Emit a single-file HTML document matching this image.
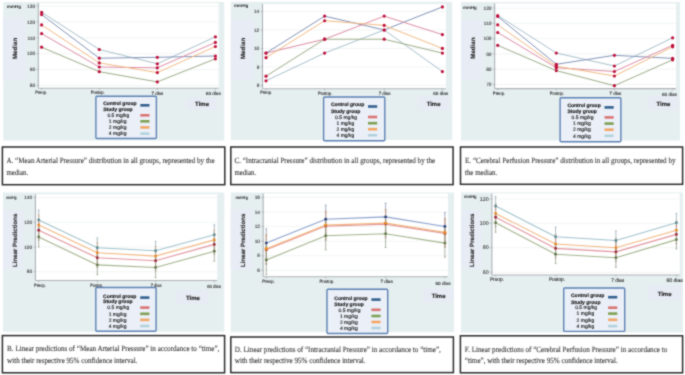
<!DOCTYPE html>
<html><head><meta charset="utf-8"><style>
html,body{margin:0;padding:0;background:#fff;width:685px;height:375px;overflow:hidden;}
svg{display:block;font-family:"Liberation Sans",sans-serif;}
text{text-rendering:geometricPrecision;}
</style></head><body>
<svg width="685" height="375" viewBox="0 0 685 375">
<defs><filter id="bl" x="0" y="0" width="1" height="1" filterUnits="objectBoundingBox" color-interpolation-filters="sRGB"><feConvolveMatrix order="3" kernelMatrix="1 2 1 2 10 2 1 2 1" divisor="22" edgeMode="duplicate" preserveAlpha="true"/></filter></defs>
<g filter="url(#bl)">
<rect x="0" y="0" width="685" height="375" fill="#ffffff"/>
<rect x="3.20" y="2.00" width="221.10" height="138.60" fill="#e6eff0" />
<rect x="2.80" y="17.50" width="23.00" height="62.00" fill="#e8ecf5" />
<rect x="38.30" y="3.00" width="180.30" height="85.20" fill="#ffffff" />
<line x1="38.30" y1="6.10" x2="218.60" y2="6.10" stroke="#eff1f1" stroke-width="0.8"/>
<line x1="38.30" y1="21.96" x2="218.60" y2="21.96" stroke="#eff1f1" stroke-width="0.8"/>
<line x1="38.30" y1="37.82" x2="218.60" y2="37.82" stroke="#eff1f1" stroke-width="0.8"/>
<line x1="38.30" y1="53.68" x2="218.60" y2="53.68" stroke="#eff1f1" stroke-width="0.8"/>
<line x1="38.30" y1="69.54" x2="218.60" y2="69.54" stroke="#eff1f1" stroke-width="0.8"/>
<line x1="38.30" y1="85.40" x2="218.60" y2="85.40" stroke="#eff1f1" stroke-width="0.8"/>
<line x1="38.30" y1="3.00" x2="38.30" y2="88.20" stroke="#9ca2a8" stroke-width="0.9"/>
<line x1="38.30" y1="88.20" x2="218.60" y2="88.20" stroke="#aeb2b6" stroke-width="1.1"/>
<line x1="36.30" y1="6.10" x2="38.30" y2="6.10" stroke="#9aa0a6" stroke-width="0.6"/>
<text x="35.10" y="7.80" font-size="4.8" text-anchor="end" font-weight="normal" fill="#444" font-family="Liberation Sans" stroke="#444" stroke-width="0.12">130</text>
<line x1="36.30" y1="21.96" x2="38.30" y2="21.96" stroke="#9aa0a6" stroke-width="0.6"/>
<text x="35.10" y="23.66" font-size="4.8" text-anchor="end" font-weight="normal" fill="#444" font-family="Liberation Sans" stroke="#444" stroke-width="0.12">120</text>
<line x1="36.30" y1="37.82" x2="38.30" y2="37.82" stroke="#9aa0a6" stroke-width="0.6"/>
<text x="35.10" y="39.52" font-size="4.8" text-anchor="end" font-weight="normal" fill="#444" font-family="Liberation Sans" stroke="#444" stroke-width="0.12">110</text>
<line x1="36.30" y1="53.68" x2="38.30" y2="53.68" stroke="#9aa0a6" stroke-width="0.6"/>
<text x="35.10" y="55.38" font-size="4.8" text-anchor="end" font-weight="normal" fill="#444" font-family="Liberation Sans" stroke="#444" stroke-width="0.12">100</text>
<line x1="36.30" y1="69.54" x2="38.30" y2="69.54" stroke="#9aa0a6" stroke-width="0.6"/>
<text x="35.10" y="71.24" font-size="4.8" text-anchor="end" font-weight="normal" fill="#444" font-family="Liberation Sans" stroke="#444" stroke-width="0.12">90</text>
<line x1="36.30" y1="85.40" x2="38.30" y2="85.40" stroke="#9aa0a6" stroke-width="0.6"/>
<text x="35.10" y="87.10" font-size="4.8" text-anchor="end" font-weight="normal" fill="#444" font-family="Liberation Sans" stroke="#444" stroke-width="0.12">80</text>
<line x1="41.60" y1="88.20" x2="41.60" y2="90.00" stroke="#9aa0a6" stroke-width="0.6"/>
<text x="41.20" y="94.44" font-size="4.6" text-anchor="middle" fill="#333" stroke="#333" stroke-width="0.14" font-family="Liberation Sans" textLength="11.80" lengthAdjust="spacingAndGlyphs">Preop.</text>
<line x1="99.30" y1="88.20" x2="99.30" y2="90.00" stroke="#9aa0a6" stroke-width="0.6"/>
<text x="97.70" y="94.44" font-size="4.6" text-anchor="middle" fill="#333" stroke="#333" stroke-width="0.14" font-family="Liberation Sans" textLength="14.10" lengthAdjust="spacingAndGlyphs">Postop.</text>
<line x1="157.30" y1="88.20" x2="157.30" y2="90.00" stroke="#9aa0a6" stroke-width="0.6"/>
<text x="157.40" y="94.64" font-size="4.6" text-anchor="middle" fill="#333" stroke="#333" stroke-width="0.14" font-family="Liberation Sans" textLength="11.70" lengthAdjust="spacingAndGlyphs">7 dias</text>
<line x1="215.40" y1="88.20" x2="215.40" y2="90.00" stroke="#9aa0a6" stroke-width="0.6"/>
<text x="213.30" y="95.34" font-size="4.6" text-anchor="middle" fill="#333" stroke="#333" stroke-width="0.14" font-family="Liberation Sans" textLength="15.00" lengthAdjust="spacingAndGlyphs">60 dias</text>
<text x="6.70" y="8.10" font-size="4.5" font-weight="bold" fill="#2a2a2a" font-family="Liberation Sans" textLength="14.30" lengthAdjust="spacingAndGlyphs">mmHg</text>
<text x="0" y="0" font-size="6.2" font-weight="bold" fill="#222" stroke="#222" stroke-width="0.12" font-family="Liberation Sans" text-anchor="middle" transform="translate(17.40,48.40) rotate(-90)">Median</text>
<polyline points="41.60,12.30 99.30,49.50 157.30,63.80 215.40,36.80" fill="none" stroke="#a8c0cc" stroke-width="1.0"/>
<polyline points="41.60,14.60 99.30,58.20 157.30,57.30 215.40,56.00" fill="none" stroke="#8294b8" stroke-width="1.0"/>
<polyline points="41.60,33.60 99.30,67.00 157.30,67.80 215.40,42.40" fill="none" stroke="#dc8ca4" stroke-width="1.0"/>
<polyline points="41.60,24.90 99.30,62.90 157.30,72.60 215.40,46.50" fill="none" stroke="#f2ba84" stroke-width="1.0"/>
<polyline points="41.60,47.20 99.30,71.70 157.30,81.90 215.40,58.80" fill="none" stroke="#9cac88" stroke-width="1.0"/>
<circle cx="41.60" cy="12.30" r="1.6" fill="#bc0e3a"/>
<circle cx="99.30" cy="49.50" r="1.6" fill="#bc0e3a"/>
<circle cx="157.30" cy="63.80" r="1.6" fill="#bc0e3a"/>
<circle cx="215.40" cy="36.80" r="1.6" fill="#bc0e3a"/>
<circle cx="41.60" cy="14.60" r="1.6" fill="#bc0e3a"/>
<circle cx="99.30" cy="58.20" r="1.6" fill="#bc0e3a"/>
<circle cx="157.30" cy="57.30" r="1.6" fill="#bc0e3a"/>
<circle cx="215.40" cy="56.00" r="1.6" fill="#bc0e3a"/>
<circle cx="41.60" cy="33.60" r="1.6" fill="#bc0e3a"/>
<circle cx="99.30" cy="67.00" r="1.6" fill="#bc0e3a"/>
<circle cx="157.30" cy="67.80" r="1.6" fill="#bc0e3a"/>
<circle cx="215.40" cy="42.40" r="1.6" fill="#bc0e3a"/>
<circle cx="41.60" cy="24.90" r="1.6" fill="#bc0e3a"/>
<circle cx="99.30" cy="62.90" r="1.6" fill="#bc0e3a"/>
<circle cx="157.30" cy="72.60" r="1.6" fill="#bc0e3a"/>
<circle cx="215.40" cy="46.50" r="1.6" fill="#bc0e3a"/>
<circle cx="41.60" cy="47.20" r="1.6" fill="#bc0e3a"/>
<circle cx="99.30" cy="71.70" r="1.6" fill="#bc0e3a"/>
<circle cx="157.30" cy="81.90" r="1.6" fill="#bc0e3a"/>
<circle cx="215.40" cy="58.80" r="1.6" fill="#bc0e3a"/>
<rect x="95.90" y="96.20" width="60.50" height="42.30" rx="1" fill="#ebf0f8" stroke="#5b80b2" stroke-width="1.4"/>
<text x="103.20" y="105.20" font-size="5.0" text-anchor="start" font-weight="bold" fill="#222" font-family="Liberation Sans" stroke="#222" stroke-width="0.18">Control group</text>
<rect x="140.30" y="104.00" width="9.2" height="2.6" fill="#33608f"/>
<text x="103.20" y="111.10" font-size="5.0" text-anchor="start" font-weight="bold" fill="#222" font-family="Liberation Sans" stroke="#222" stroke-width="0.18">Study group</text>
<text x="107.40" y="117.00" font-size="5.0" text-anchor="start" font-weight="normal" fill="#2e2e2e" font-family="Liberation Sans" stroke="#2e2e2e" stroke-width="0.18">0.5 mg/kg</text>
<rect x="140.30" y="114.00" width="9.2" height="2.6" fill="#da7474"/>
<text x="108.80" y="123.00" font-size="5.0" text-anchor="start" font-weight="normal" fill="#2e2e2e" font-family="Liberation Sans" stroke="#2e2e2e" stroke-width="0.18">1 mg/kg</text>
<rect x="140.30" y="120.00" width="9.2" height="2.6" fill="#7f9f52"/>
<text x="108.80" y="129.10" font-size="5.0" text-anchor="start" font-weight="normal" fill="#2e2e2e" font-family="Liberation Sans" stroke="#2e2e2e" stroke-width="0.18">2 mg/kg</text>
<rect x="140.30" y="126.10" width="9.2" height="2.6" fill="#f2a666"/>
<text x="108.80" y="135.30" font-size="5.0" text-anchor="start" font-weight="normal" fill="#2e2e2e" font-family="Liberation Sans" stroke="#2e2e2e" stroke-width="0.18">4 mg/kg</text>
<rect x="140.30" y="132.30" width="9.2" height="2.6" fill="#b2d2dc"/>
<rect x="185.50" y="97.60" width="31.00" height="12.30" fill="#e7ebf4" />
<text x="202.05" y="105.70" font-size="6.0" text-anchor="middle" font-weight="bold" fill="#222" font-family="Liberation Sans" stroke="#222" stroke-width="0.15">Time</text>
<rect x="230.80" y="1.80" width="221.40" height="138.20" fill="#e6eff0" />
<rect x="230.80" y="19.00" width="23.20" height="60.50" fill="#e8ecf5" />
<rect x="262.50" y="4.00" width="183.40" height="84.70" fill="#ffffff" />
<line x1="262.50" y1="11.50" x2="445.90" y2="11.50" stroke="#eff1f1" stroke-width="0.8"/>
<line x1="262.50" y1="29.98" x2="445.90" y2="29.98" stroke="#eff1f1" stroke-width="0.8"/>
<line x1="262.50" y1="48.46" x2="445.90" y2="48.46" stroke="#eff1f1" stroke-width="0.8"/>
<line x1="262.50" y1="66.94" x2="445.90" y2="66.94" stroke="#eff1f1" stroke-width="0.8"/>
<line x1="262.50" y1="85.42" x2="445.90" y2="85.42" stroke="#eff1f1" stroke-width="0.8"/>
<line x1="262.50" y1="4.00" x2="262.50" y2="88.70" stroke="#9ca2a8" stroke-width="0.9"/>
<line x1="262.50" y1="88.70" x2="445.90" y2="88.70" stroke="#aeb2b6" stroke-width="1.1"/>
<line x1="260.50" y1="11.50" x2="262.50" y2="11.50" stroke="#9aa0a6" stroke-width="0.6"/>
<text x="259.30" y="13.20" font-size="4.8" text-anchor="end" font-weight="normal" fill="#444" font-family="Liberation Sans" stroke="#444" stroke-width="0.12">14</text>
<line x1="260.50" y1="29.98" x2="262.50" y2="29.98" stroke="#9aa0a6" stroke-width="0.6"/>
<text x="259.30" y="31.68" font-size="4.8" text-anchor="end" font-weight="normal" fill="#444" font-family="Liberation Sans" stroke="#444" stroke-width="0.12">12</text>
<line x1="260.50" y1="48.46" x2="262.50" y2="48.46" stroke="#9aa0a6" stroke-width="0.6"/>
<text x="259.30" y="50.16" font-size="4.8" text-anchor="end" font-weight="normal" fill="#444" font-family="Liberation Sans" stroke="#444" stroke-width="0.12">10</text>
<line x1="260.50" y1="66.94" x2="262.50" y2="66.94" stroke="#9aa0a6" stroke-width="0.6"/>
<text x="259.30" y="68.64" font-size="4.8" text-anchor="end" font-weight="normal" fill="#444" font-family="Liberation Sans" stroke="#444" stroke-width="0.12">8</text>
<line x1="260.50" y1="85.42" x2="262.50" y2="85.42" stroke="#9aa0a6" stroke-width="0.6"/>
<text x="259.30" y="87.12" font-size="4.8" text-anchor="end" font-weight="normal" fill="#444" font-family="Liberation Sans" stroke="#444" stroke-width="0.12">6</text>
<line x1="266.00" y1="88.70" x2="266.00" y2="90.50" stroke="#9aa0a6" stroke-width="0.6"/>
<text x="266.20" y="94.44" font-size="4.6" text-anchor="middle" fill="#333" stroke="#333" stroke-width="0.14" font-family="Liberation Sans" textLength="11.90" lengthAdjust="spacingAndGlyphs">Preop.</text>
<line x1="324.60" y1="88.70" x2="324.60" y2="90.50" stroke="#9aa0a6" stroke-width="0.6"/>
<text x="325.20" y="94.64" font-size="4.6" text-anchor="middle" fill="#333" stroke="#333" stroke-width="0.14" font-family="Liberation Sans" textLength="14.30" lengthAdjust="spacingAndGlyphs">Postop.</text>
<line x1="384.20" y1="88.70" x2="384.20" y2="90.50" stroke="#9aa0a6" stroke-width="0.6"/>
<text x="384.50" y="94.84" font-size="4.6" text-anchor="middle" fill="#333" stroke="#333" stroke-width="0.14" font-family="Liberation Sans" textLength="11.70" lengthAdjust="spacingAndGlyphs">7 dias</text>
<line x1="442.40" y1="88.70" x2="442.40" y2="90.50" stroke="#9aa0a6" stroke-width="0.6"/>
<text x="440.70" y="95.04" font-size="4.6" text-anchor="middle" fill="#333" stroke="#333" stroke-width="0.14" font-family="Liberation Sans" textLength="14.80" lengthAdjust="spacingAndGlyphs">60 dias</text>
<text x="234.00" y="6.50" font-size="4.5" font-weight="bold" fill="#2a2a2a" font-family="Liberation Sans" textLength="14.30" lengthAdjust="spacingAndGlyphs">mmHg</text>
<text x="0" y="0" font-size="6.2" font-weight="bold" fill="#222" stroke="#222" stroke-width="0.12" font-family="Liberation Sans" text-anchor="middle" transform="translate(245.00,48.40) rotate(-90)">Median</text>
<polyline points="266.00,80.80 324.60,53.08 384.20,29.98 442.40,71.56" fill="none" stroke="#a8c0cc" stroke-width="1.0"/>
<polyline points="266.00,53.08 324.60,16.12 384.20,29.98 442.40,6.88" fill="none" stroke="#8294b8" stroke-width="1.0"/>
<polyline points="266.00,53.08 324.60,39.22 384.20,16.12 442.40,34.60" fill="none" stroke="#dc8ca4" stroke-width="1.0"/>
<polyline points="266.00,76.18 324.60,39.22 384.20,39.22 442.40,53.08" fill="none" stroke="#9cac88" stroke-width="1.0"/>
<polyline points="266.00,57.70 324.60,20.74 384.20,25.36 442.40,48.46" fill="none" stroke="#f2ba84" stroke-width="1.0"/>
<circle cx="266.00" cy="80.80" r="1.6" fill="#bc0e3a"/>
<circle cx="324.60" cy="53.08" r="1.6" fill="#bc0e3a"/>
<circle cx="384.20" cy="29.98" r="1.6" fill="#bc0e3a"/>
<circle cx="442.40" cy="71.56" r="1.6" fill="#bc0e3a"/>
<circle cx="266.00" cy="53.08" r="1.6" fill="#bc0e3a"/>
<circle cx="324.60" cy="16.12" r="1.6" fill="#bc0e3a"/>
<circle cx="384.20" cy="29.98" r="1.6" fill="#bc0e3a"/>
<circle cx="442.40" cy="6.88" r="1.6" fill="#bc0e3a"/>
<circle cx="266.00" cy="53.08" r="1.6" fill="#bc0e3a"/>
<circle cx="324.60" cy="39.22" r="1.6" fill="#bc0e3a"/>
<circle cx="384.20" cy="16.12" r="1.6" fill="#bc0e3a"/>
<circle cx="442.40" cy="34.60" r="1.6" fill="#bc0e3a"/>
<circle cx="266.00" cy="76.18" r="1.6" fill="#bc0e3a"/>
<circle cx="324.60" cy="39.22" r="1.6" fill="#bc0e3a"/>
<circle cx="384.20" cy="39.22" r="1.6" fill="#bc0e3a"/>
<circle cx="442.40" cy="53.08" r="1.6" fill="#bc0e3a"/>
<circle cx="266.00" cy="57.70" r="1.6" fill="#bc0e3a"/>
<circle cx="324.60" cy="20.74" r="1.6" fill="#bc0e3a"/>
<circle cx="384.20" cy="25.36" r="1.6" fill="#bc0e3a"/>
<circle cx="442.40" cy="48.46" r="1.6" fill="#bc0e3a"/>
<rect x="323.60" y="97.00" width="61.20" height="43.80" rx="1" fill="#ebf0f8" stroke="#5b80b2" stroke-width="1.4"/>
<text x="330.90" y="106.40" font-size="5.0" text-anchor="start" font-weight="bold" fill="#222" font-family="Liberation Sans" stroke="#222" stroke-width="0.18">Control group</text>
<rect x="368.00" y="105.20" width="9.2" height="2.6" fill="#33608f"/>
<text x="330.90" y="112.50" font-size="5.0" text-anchor="start" font-weight="bold" fill="#222" font-family="Liberation Sans" stroke="#222" stroke-width="0.18">Study group</text>
<text x="335.10" y="118.70" font-size="5.0" text-anchor="start" font-weight="normal" fill="#2e2e2e" font-family="Liberation Sans" stroke="#2e2e2e" stroke-width="0.18">0.5 mg/kg</text>
<rect x="368.00" y="115.70" width="9.2" height="2.6" fill="#da7474"/>
<text x="336.50" y="124.90" font-size="5.0" text-anchor="start" font-weight="normal" fill="#2e2e2e" font-family="Liberation Sans" stroke="#2e2e2e" stroke-width="0.18">1 mg/kg</text>
<rect x="368.00" y="121.90" width="9.2" height="2.6" fill="#7f9f52"/>
<text x="336.50" y="130.90" font-size="5.0" text-anchor="start" font-weight="normal" fill="#2e2e2e" font-family="Liberation Sans" stroke="#2e2e2e" stroke-width="0.18">2 mg/kg</text>
<rect x="368.00" y="127.90" width="9.2" height="2.6" fill="#f2a666"/>
<text x="336.50" y="137.00" font-size="5.0" text-anchor="start" font-weight="normal" fill="#2e2e2e" font-family="Liberation Sans" stroke="#2e2e2e" stroke-width="0.18">4 mg/kg</text>
<rect x="368.00" y="134.00" width="9.2" height="2.6" fill="#b2d2dc"/>
<rect x="417.50" y="95.90" width="32.80" height="14.60" fill="#e7ebf4" />
<text x="433.60" y="105.80" font-size="6.0" text-anchor="middle" font-weight="bold" fill="#222" font-family="Liberation Sans" stroke="#222" stroke-width="0.15">Time</text>
<rect x="461.00" y="2.00" width="219.00" height="138.60" fill="#e6eff0" />
<rect x="461.00" y="20.50" width="21.90" height="58.70" fill="#e8ecf5" />
<rect x="494.70" y="3.50" width="181.20" height="85.10" fill="#ffffff" />
<line x1="494.70" y1="8.00" x2="675.90" y2="8.00" stroke="#eff1f1" stroke-width="0.8"/>
<line x1="494.70" y1="23.30" x2="675.90" y2="23.30" stroke="#eff1f1" stroke-width="0.8"/>
<line x1="494.70" y1="38.60" x2="675.90" y2="38.60" stroke="#eff1f1" stroke-width="0.8"/>
<line x1="494.70" y1="53.90" x2="675.90" y2="53.90" stroke="#eff1f1" stroke-width="0.8"/>
<line x1="494.70" y1="69.20" x2="675.90" y2="69.20" stroke="#eff1f1" stroke-width="0.8"/>
<line x1="494.70" y1="84.50" x2="675.90" y2="84.50" stroke="#eff1f1" stroke-width="0.8"/>
<line x1="494.70" y1="3.50" x2="494.70" y2="88.60" stroke="#9ca2a8" stroke-width="0.9"/>
<line x1="494.70" y1="88.60" x2="675.90" y2="88.60" stroke="#aeb2b6" stroke-width="1.1"/>
<line x1="492.70" y1="8.00" x2="494.70" y2="8.00" stroke="#9aa0a6" stroke-width="0.6"/>
<text x="491.50" y="9.70" font-size="4.8" text-anchor="end" font-weight="normal" fill="#444" font-family="Liberation Sans" stroke="#444" stroke-width="0.12">120</text>
<line x1="492.70" y1="23.30" x2="494.70" y2="23.30" stroke="#9aa0a6" stroke-width="0.6"/>
<text x="491.50" y="25.00" font-size="4.8" text-anchor="end" font-weight="normal" fill="#444" font-family="Liberation Sans" stroke="#444" stroke-width="0.12">110</text>
<line x1="492.70" y1="38.60" x2="494.70" y2="38.60" stroke="#9aa0a6" stroke-width="0.6"/>
<text x="491.50" y="40.30" font-size="4.8" text-anchor="end" font-weight="normal" fill="#444" font-family="Liberation Sans" stroke="#444" stroke-width="0.12">100</text>
<line x1="492.70" y1="53.90" x2="494.70" y2="53.90" stroke="#9aa0a6" stroke-width="0.6"/>
<text x="491.50" y="55.60" font-size="4.8" text-anchor="end" font-weight="normal" fill="#444" font-family="Liberation Sans" stroke="#444" stroke-width="0.12">90</text>
<line x1="492.70" y1="69.20" x2="494.70" y2="69.20" stroke="#9aa0a6" stroke-width="0.6"/>
<text x="491.50" y="70.90" font-size="4.8" text-anchor="end" font-weight="normal" fill="#444" font-family="Liberation Sans" stroke="#444" stroke-width="0.12">80</text>
<line x1="492.70" y1="84.50" x2="494.70" y2="84.50" stroke="#9aa0a6" stroke-width="0.6"/>
<text x="491.50" y="86.20" font-size="4.8" text-anchor="end" font-weight="normal" fill="#444" font-family="Liberation Sans" stroke="#444" stroke-width="0.12">70</text>
<line x1="497.70" y1="88.60" x2="497.70" y2="90.40" stroke="#9aa0a6" stroke-width="0.6"/>
<text x="499.00" y="95.04" font-size="4.6" text-anchor="middle" fill="#333" stroke="#333" stroke-width="0.14" font-family="Liberation Sans" textLength="12.30" lengthAdjust="spacingAndGlyphs">Preop.</text>
<line x1="556.30" y1="88.60" x2="556.30" y2="90.40" stroke="#9aa0a6" stroke-width="0.6"/>
<text x="556.90" y="95.14" font-size="4.6" text-anchor="middle" fill="#333" stroke="#333" stroke-width="0.14" font-family="Liberation Sans" textLength="14.20" lengthAdjust="spacingAndGlyphs">Postop.</text>
<line x1="614.40" y1="88.60" x2="614.40" y2="90.40" stroke="#9aa0a6" stroke-width="0.6"/>
<text x="615.40" y="95.44" font-size="4.6" text-anchor="middle" fill="#333" stroke="#333" stroke-width="0.14" font-family="Liberation Sans" textLength="11.90" lengthAdjust="spacingAndGlyphs">7 dias</text>
<line x1="672.60" y1="88.60" x2="672.60" y2="90.40" stroke="#9aa0a6" stroke-width="0.6"/>
<text x="669.50" y="95.64" font-size="4.6" text-anchor="middle" fill="#333" stroke="#333" stroke-width="0.14" font-family="Liberation Sans" textLength="14.90" lengthAdjust="spacingAndGlyphs">60 dias</text>
<text x="463.10" y="8.70" font-size="4.5" font-weight="bold" fill="#2a2a2a" font-family="Liberation Sans" textLength="13.70" lengthAdjust="spacingAndGlyphs">mmHg</text>
<text x="0" y="0" font-size="6.2" font-weight="bold" fill="#222" stroke="#222" stroke-width="0.12" font-family="Liberation Sans" text-anchor="middle" transform="translate(475.00,48.10) rotate(-90)">Median</text>
<polyline points="497.70,15.50 556.30,53.00 614.40,66.00 672.60,37.80" fill="none" stroke="#a8c0cc" stroke-width="1.0"/>
<polyline points="497.70,16.50 556.30,64.30 614.40,55.30 672.60,58.40" fill="none" stroke="#8294b8" stroke-width="1.0"/>
<polyline points="497.70,32.50 556.30,67.70 614.40,71.50 672.60,45.30" fill="none" stroke="#dc8ca4" stroke-width="1.0"/>
<polyline points="497.70,24.80 556.30,66.20 614.40,76.00 672.60,46.80" fill="none" stroke="#f2ba84" stroke-width="1.0"/>
<polyline points="497.70,45.30 556.30,70.60 614.40,85.70 672.60,59.80" fill="none" stroke="#9cac88" stroke-width="1.0"/>
<circle cx="497.70" cy="15.50" r="1.6" fill="#bc0e3a"/>
<circle cx="556.30" cy="53.00" r="1.6" fill="#bc0e3a"/>
<circle cx="614.40" cy="66.00" r="1.6" fill="#bc0e3a"/>
<circle cx="672.60" cy="37.80" r="1.6" fill="#bc0e3a"/>
<circle cx="497.70" cy="16.50" r="1.6" fill="#bc0e3a"/>
<circle cx="556.30" cy="64.30" r="1.6" fill="#bc0e3a"/>
<circle cx="614.40" cy="55.30" r="1.6" fill="#bc0e3a"/>
<circle cx="672.60" cy="58.40" r="1.6" fill="#bc0e3a"/>
<circle cx="497.70" cy="32.50" r="1.6" fill="#bc0e3a"/>
<circle cx="556.30" cy="67.70" r="1.6" fill="#bc0e3a"/>
<circle cx="614.40" cy="71.50" r="1.6" fill="#bc0e3a"/>
<circle cx="672.60" cy="45.30" r="1.6" fill="#bc0e3a"/>
<circle cx="497.70" cy="24.80" r="1.6" fill="#bc0e3a"/>
<circle cx="556.30" cy="66.20" r="1.6" fill="#bc0e3a"/>
<circle cx="614.40" cy="76.00" r="1.6" fill="#bc0e3a"/>
<circle cx="672.60" cy="46.80" r="1.6" fill="#bc0e3a"/>
<circle cx="497.70" cy="45.30" r="1.6" fill="#bc0e3a"/>
<circle cx="556.30" cy="70.60" r="1.6" fill="#bc0e3a"/>
<circle cx="614.40" cy="85.70" r="1.6" fill="#bc0e3a"/>
<circle cx="672.60" cy="59.80" r="1.6" fill="#bc0e3a"/>
<rect x="560.10" y="97.70" width="60.80" height="44.10" rx="1" fill="#ebf0f8" stroke="#5b80b2" stroke-width="1.4"/>
<text x="567.40" y="107.30" font-size="5.0" text-anchor="start" font-weight="bold" fill="#222" font-family="Liberation Sans" stroke="#222" stroke-width="0.18">Control group</text>
<rect x="604.50" y="106.10" width="9.2" height="2.6" fill="#33608f"/>
<text x="567.40" y="113.20" font-size="5.0" text-anchor="start" font-weight="bold" fill="#222" font-family="Liberation Sans" stroke="#222" stroke-width="0.18">Study group</text>
<text x="571.60" y="119.10" font-size="5.0" text-anchor="start" font-weight="normal" fill="#2e2e2e" font-family="Liberation Sans" stroke="#2e2e2e" stroke-width="0.18">0.5 mg/kg</text>
<rect x="604.50" y="116.10" width="9.2" height="2.6" fill="#da7474"/>
<text x="573.00" y="125.30" font-size="5.0" text-anchor="start" font-weight="normal" fill="#2e2e2e" font-family="Liberation Sans" stroke="#2e2e2e" stroke-width="0.18">1 mg/kg</text>
<rect x="604.50" y="122.30" width="9.2" height="2.6" fill="#7f9f52"/>
<text x="573.00" y="131.40" font-size="5.0" text-anchor="start" font-weight="normal" fill="#2e2e2e" font-family="Liberation Sans" stroke="#2e2e2e" stroke-width="0.18">2 mg/kg</text>
<rect x="604.50" y="128.40" width="9.2" height="2.6" fill="#f2a666"/>
<text x="573.00" y="137.50" font-size="5.0" text-anchor="start" font-weight="normal" fill="#2e2e2e" font-family="Liberation Sans" stroke="#2e2e2e" stroke-width="0.18">4 mg/kg</text>
<rect x="604.50" y="134.50" width="9.2" height="2.6" fill="#b2d2dc"/>
<rect x="647.50" y="96.20" width="31.60" height="14.30" fill="#e7ebf4" />
<text x="663.50" y="105.90" font-size="6.0" text-anchor="middle" font-weight="bold" fill="#222" font-family="Liberation Sans" stroke="#222" stroke-width="0.15">Time</text>
<rect x="3.00" y="192.40" width="221.30" height="139.40" fill="#e6eff0" />
<rect x="3.00" y="210.00" width="21.00" height="59.60" fill="#e8ecf5" />
<rect x="35.40" y="194.30" width="181.80" height="86.20" fill="#ffffff" />
<line x1="35.40" y1="197.50" x2="217.20" y2="197.50" stroke="#eff1f1" stroke-width="0.8"/>
<line x1="35.40" y1="222.24" x2="217.20" y2="222.24" stroke="#eff1f1" stroke-width="0.8"/>
<line x1="35.40" y1="246.98" x2="217.20" y2="246.98" stroke="#eff1f1" stroke-width="0.8"/>
<line x1="35.40" y1="271.72" x2="217.20" y2="271.72" stroke="#eff1f1" stroke-width="0.8"/>
<line x1="35.40" y1="194.30" x2="35.40" y2="280.50" stroke="#9ca2a8" stroke-width="0.9"/>
<line x1="35.40" y1="280.50" x2="217.20" y2="280.50" stroke="#aeb2b6" stroke-width="1.1"/>
<line x1="33.40" y1="197.50" x2="35.40" y2="197.50" stroke="#9aa0a6" stroke-width="0.6"/>
<text x="32.20" y="199.20" font-size="4.8" text-anchor="end" font-weight="normal" fill="#444" font-family="Liberation Sans" stroke="#444" stroke-width="0.12">140</text>
<line x1="33.40" y1="222.24" x2="35.40" y2="222.24" stroke="#9aa0a6" stroke-width="0.6"/>
<text x="32.20" y="223.94" font-size="4.8" text-anchor="end" font-weight="normal" fill="#444" font-family="Liberation Sans" stroke="#444" stroke-width="0.12">120</text>
<line x1="33.40" y1="246.98" x2="35.40" y2="246.98" stroke="#9aa0a6" stroke-width="0.6"/>
<text x="32.20" y="248.68" font-size="4.8" text-anchor="end" font-weight="normal" fill="#444" font-family="Liberation Sans" stroke="#444" stroke-width="0.12">100</text>
<line x1="33.40" y1="271.72" x2="35.40" y2="271.72" stroke="#9aa0a6" stroke-width="0.6"/>
<text x="32.20" y="273.42" font-size="4.8" text-anchor="end" font-weight="normal" fill="#444" font-family="Liberation Sans" stroke="#444" stroke-width="0.12">80</text>
<line x1="38.70" y1="280.50" x2="38.70" y2="282.30" stroke="#9aa0a6" stroke-width="0.6"/>
<text x="39.90" y="286.94" font-size="4.6" text-anchor="middle" fill="#333" stroke="#333" stroke-width="0.14" font-family="Liberation Sans" textLength="11.70" lengthAdjust="spacingAndGlyphs">Preop.</text>
<line x1="97.30" y1="280.50" x2="97.30" y2="282.30" stroke="#9aa0a6" stroke-width="0.6"/>
<text x="96.70" y="287.04" font-size="4.6" text-anchor="middle" fill="#333" stroke="#333" stroke-width="0.14" font-family="Liberation Sans" textLength="12.80" lengthAdjust="spacingAndGlyphs">Postop.</text>
<line x1="155.60" y1="280.50" x2="155.60" y2="282.30" stroke="#9aa0a6" stroke-width="0.6"/>
<text x="156.10" y="287.24" font-size="4.6" text-anchor="middle" fill="#333" stroke="#333" stroke-width="0.14" font-family="Liberation Sans" textLength="10.80" lengthAdjust="spacingAndGlyphs">7 dias</text>
<line x1="214.30" y1="280.50" x2="214.30" y2="282.30" stroke="#9aa0a6" stroke-width="0.6"/>
<text x="214.00" y="287.64" font-size="4.6" text-anchor="middle" fill="#333" stroke="#333" stroke-width="0.14" font-family="Liberation Sans" textLength="13.70" lengthAdjust="spacingAndGlyphs">60 dias</text>
<text x="6.20" y="199.40" font-size="4.5" font-weight="bold" fill="#2a2a2a" font-family="Liberation Sans" textLength="10.40" lengthAdjust="spacingAndGlyphs">mmHg</text>
<text x="0" y="0" font-size="6.1" font-weight="bold" fill="#222" stroke="#222" stroke-width="0.12" font-family="Liberation Sans" text-anchor="middle" transform="translate(16.90,240.30) rotate(-90)">Linear Predictions</text>
<polyline points="38.70,219.90 97.30,247.80 155.60,250.70 214.30,234.70" fill="none" stroke="#a0c2cc" stroke-width="1.1"/>
<polyline points="38.70,225.00 97.30,252.70 155.60,256.10 214.30,239.90" fill="none" stroke="#f2b680" stroke-width="1.1"/>
<polyline points="38.70,230.20 97.30,257.80 155.60,260.70 214.30,244.40" fill="none" stroke="#e2949f" stroke-width="1.1"/>
<polyline points="38.70,237.00 97.30,264.90 155.60,267.50 214.30,251.30" fill="none" stroke="#a2b48c" stroke-width="1.1"/>
<line x1="38.70" y1="210.00" x2="38.70" y2="229.90" stroke="#8aa4ac" stroke-width="0.7"/>
<line x1="37.80" y1="210.00" x2="39.60" y2="210.00" stroke="#8aa4ac" stroke-width="0.7"/>
<line x1="37.80" y1="229.90" x2="39.60" y2="229.90" stroke="#8aa4ac" stroke-width="0.7"/>
<line x1="38.70" y1="215.10" x2="38.70" y2="235.00" stroke="#c8a480" stroke-width="0.7"/>
<line x1="37.80" y1="215.10" x2="39.60" y2="215.10" stroke="#c8a480" stroke-width="0.7"/>
<line x1="37.80" y1="235.00" x2="39.60" y2="235.00" stroke="#c8a480" stroke-width="0.7"/>
<line x1="38.70" y1="220.30" x2="38.70" y2="240.20" stroke="#b89094" stroke-width="0.7"/>
<line x1="37.80" y1="220.30" x2="39.60" y2="220.30" stroke="#b89094" stroke-width="0.7"/>
<line x1="37.80" y1="240.20" x2="39.60" y2="240.20" stroke="#b89094" stroke-width="0.7"/>
<line x1="38.70" y1="227.10" x2="38.70" y2="247.00" stroke="#8a967c" stroke-width="0.7"/>
<line x1="37.80" y1="227.10" x2="39.60" y2="227.10" stroke="#8a967c" stroke-width="0.7"/>
<line x1="37.80" y1="247.00" x2="39.60" y2="247.00" stroke="#8a967c" stroke-width="0.7"/>
<line x1="97.30" y1="237.90" x2="97.30" y2="257.50" stroke="#8aa4ac" stroke-width="0.7"/>
<line x1="96.40" y1="237.90" x2="98.20" y2="237.90" stroke="#8aa4ac" stroke-width="0.7"/>
<line x1="96.40" y1="257.50" x2="98.20" y2="257.50" stroke="#8aa4ac" stroke-width="0.7"/>
<line x1="97.30" y1="242.80" x2="97.30" y2="262.40" stroke="#c8a480" stroke-width="0.7"/>
<line x1="96.40" y1="242.80" x2="98.20" y2="242.80" stroke="#c8a480" stroke-width="0.7"/>
<line x1="96.40" y1="262.40" x2="98.20" y2="262.40" stroke="#c8a480" stroke-width="0.7"/>
<line x1="97.30" y1="247.90" x2="97.30" y2="267.50" stroke="#b89094" stroke-width="0.7"/>
<line x1="96.40" y1="247.90" x2="98.20" y2="247.90" stroke="#b89094" stroke-width="0.7"/>
<line x1="96.40" y1="267.50" x2="98.20" y2="267.50" stroke="#b89094" stroke-width="0.7"/>
<line x1="97.30" y1="255.00" x2="97.30" y2="274.60" stroke="#8a967c" stroke-width="0.7"/>
<line x1="96.40" y1="255.00" x2="98.20" y2="255.00" stroke="#8a967c" stroke-width="0.7"/>
<line x1="96.40" y1="274.60" x2="98.20" y2="274.60" stroke="#8a967c" stroke-width="0.7"/>
<line x1="155.60" y1="241.30" x2="155.60" y2="260.90" stroke="#8aa4ac" stroke-width="0.7"/>
<line x1="154.70" y1="241.30" x2="156.50" y2="241.30" stroke="#8aa4ac" stroke-width="0.7"/>
<line x1="154.70" y1="260.90" x2="156.50" y2="260.90" stroke="#8aa4ac" stroke-width="0.7"/>
<line x1="155.60" y1="246.70" x2="155.60" y2="266.30" stroke="#c8a480" stroke-width="0.7"/>
<line x1="154.70" y1="246.70" x2="156.50" y2="246.70" stroke="#c8a480" stroke-width="0.7"/>
<line x1="154.70" y1="266.30" x2="156.50" y2="266.30" stroke="#c8a480" stroke-width="0.7"/>
<line x1="155.60" y1="251.30" x2="155.60" y2="270.90" stroke="#b89094" stroke-width="0.7"/>
<line x1="154.70" y1="251.30" x2="156.50" y2="251.30" stroke="#b89094" stroke-width="0.7"/>
<line x1="154.70" y1="270.90" x2="156.50" y2="270.90" stroke="#b89094" stroke-width="0.7"/>
<line x1="155.60" y1="258.10" x2="155.60" y2="277.70" stroke="#8a967c" stroke-width="0.7"/>
<line x1="154.70" y1="258.10" x2="156.50" y2="258.10" stroke="#8a967c" stroke-width="0.7"/>
<line x1="154.70" y1="277.70" x2="156.50" y2="277.70" stroke="#8a967c" stroke-width="0.7"/>
<line x1="214.30" y1="224.80" x2="214.30" y2="244.60" stroke="#8aa4ac" stroke-width="0.7"/>
<line x1="213.40" y1="224.80" x2="215.20" y2="224.80" stroke="#8aa4ac" stroke-width="0.7"/>
<line x1="213.40" y1="244.60" x2="215.20" y2="244.60" stroke="#8aa4ac" stroke-width="0.7"/>
<line x1="214.30" y1="230.00" x2="214.30" y2="249.80" stroke="#c8a480" stroke-width="0.7"/>
<line x1="213.40" y1="230.00" x2="215.20" y2="230.00" stroke="#c8a480" stroke-width="0.7"/>
<line x1="213.40" y1="249.80" x2="215.20" y2="249.80" stroke="#c8a480" stroke-width="0.7"/>
<line x1="214.30" y1="234.50" x2="214.30" y2="254.30" stroke="#b89094" stroke-width="0.7"/>
<line x1="213.40" y1="234.50" x2="215.20" y2="234.50" stroke="#b89094" stroke-width="0.7"/>
<line x1="213.40" y1="254.30" x2="215.20" y2="254.30" stroke="#b89094" stroke-width="0.7"/>
<line x1="214.30" y1="241.40" x2="214.30" y2="261.20" stroke="#8a967c" stroke-width="0.7"/>
<line x1="213.40" y1="241.40" x2="215.20" y2="241.40" stroke="#8a967c" stroke-width="0.7"/>
<line x1="213.40" y1="261.20" x2="215.20" y2="261.20" stroke="#8a967c" stroke-width="0.7"/>
<circle cx="38.70" cy="219.90" r="1.45" fill="#5c8c92"/>
<circle cx="97.30" cy="247.80" r="1.45" fill="#5c8c92"/>
<circle cx="155.60" cy="250.70" r="1.45" fill="#5c8c92"/>
<circle cx="214.30" cy="234.70" r="1.45" fill="#5c8c92"/>
<circle cx="38.70" cy="225.00" r="1.45" fill="#e68c2c"/>
<circle cx="97.30" cy="252.70" r="1.45" fill="#e68c2c"/>
<circle cx="155.60" cy="256.10" r="1.45" fill="#e68c2c"/>
<circle cx="214.30" cy="239.90" r="1.45" fill="#e68c2c"/>
<circle cx="38.70" cy="230.20" r="1.45" fill="#9a2a3a"/>
<circle cx="97.30" cy="257.80" r="1.45" fill="#9a2a3a"/>
<circle cx="155.60" cy="260.70" r="1.45" fill="#9a2a3a"/>
<circle cx="214.30" cy="244.40" r="1.45" fill="#9a2a3a"/>
<circle cx="38.70" cy="237.00" r="1.45" fill="#647a4c"/>
<circle cx="97.30" cy="264.90" r="1.45" fill="#647a4c"/>
<circle cx="155.60" cy="267.50" r="1.45" fill="#647a4c"/>
<circle cx="214.30" cy="251.30" r="1.45" fill="#647a4c"/>
<rect x="95.80" y="287.50" width="60.30" height="43.80" rx="1" fill="#ebf0f8" stroke="#5b80b2" stroke-width="1.4"/>
<text x="103.10" y="297.50" font-size="5.0" text-anchor="start" font-weight="bold" fill="#222" font-family="Liberation Sans" stroke="#222" stroke-width="0.18">Control group</text>
<rect x="140.20" y="296.30" width="9.2" height="2.6" fill="#33608f"/>
<text x="103.10" y="303.40" font-size="5.0" text-anchor="start" font-weight="bold" fill="#222" font-family="Liberation Sans" stroke="#222" stroke-width="0.18">Study group</text>
<text x="107.30" y="309.30" font-size="5.0" text-anchor="start" font-weight="normal" fill="#2e2e2e" font-family="Liberation Sans" stroke="#2e2e2e" stroke-width="0.18">0.5 mg/kg</text>
<rect x="140.20" y="306.30" width="9.2" height="2.6" fill="#da7474"/>
<text x="108.70" y="315.50" font-size="5.0" text-anchor="start" font-weight="normal" fill="#2e2e2e" font-family="Liberation Sans" stroke="#2e2e2e" stroke-width="0.18">1 mg/kg</text>
<rect x="140.20" y="312.50" width="9.2" height="2.6" fill="#7f9f52"/>
<text x="108.70" y="321.60" font-size="5.0" text-anchor="start" font-weight="normal" fill="#2e2e2e" font-family="Liberation Sans" stroke="#2e2e2e" stroke-width="0.18">2 mg/kg</text>
<rect x="140.20" y="318.60" width="9.2" height="2.6" fill="#f2a666"/>
<text x="108.70" y="327.70" font-size="5.0" text-anchor="start" font-weight="normal" fill="#2e2e2e" font-family="Liberation Sans" stroke="#2e2e2e" stroke-width="0.18">4 mg/kg</text>
<rect x="140.20" y="324.70" width="9.2" height="2.6" fill="#b2d2dc"/>
<rect x="176.10" y="289.90" width="32.20" height="14.10" fill="#e7ebf4" />
<text x="192.90" y="299.70" font-size="6.0" text-anchor="middle" font-weight="bold" fill="#222" font-family="Liberation Sans" stroke="#222" stroke-width="0.15">Time</text>
<rect x="230.80" y="192.40" width="223.20" height="139.60" fill="#e6eff0" />
<rect x="230.60" y="209.00" width="22.10" height="61.00" fill="#e8ecf5" />
<rect x="263.20" y="193.50" width="184.70" height="83.30" fill="#ffffff" />
<line x1="263.20" y1="197.50" x2="447.90" y2="197.50" stroke="#eff1f1" stroke-width="0.8"/>
<line x1="263.20" y1="212.06" x2="447.90" y2="212.06" stroke="#eff1f1" stroke-width="0.8"/>
<line x1="263.20" y1="226.62" x2="447.90" y2="226.62" stroke="#eff1f1" stroke-width="0.8"/>
<line x1="263.20" y1="241.18" x2="447.90" y2="241.18" stroke="#eff1f1" stroke-width="0.8"/>
<line x1="263.20" y1="255.74" x2="447.90" y2="255.74" stroke="#eff1f1" stroke-width="0.8"/>
<line x1="263.20" y1="270.30" x2="447.90" y2="270.30" stroke="#eff1f1" stroke-width="0.8"/>
<line x1="263.20" y1="193.50" x2="263.20" y2="276.80" stroke="#9ca2a8" stroke-width="0.9"/>
<line x1="263.20" y1="276.80" x2="447.90" y2="276.80" stroke="#aeb2b6" stroke-width="1.1"/>
<line x1="261.20" y1="197.50" x2="263.20" y2="197.50" stroke="#9aa0a6" stroke-width="0.6"/>
<text x="260.00" y="199.20" font-size="4.8" text-anchor="end" font-weight="normal" fill="#444" font-family="Liberation Sans" stroke="#444" stroke-width="0.12">16</text>
<line x1="261.20" y1="212.06" x2="263.20" y2="212.06" stroke="#9aa0a6" stroke-width="0.6"/>
<text x="260.00" y="213.76" font-size="4.8" text-anchor="end" font-weight="normal" fill="#444" font-family="Liberation Sans" stroke="#444" stroke-width="0.12">14</text>
<line x1="261.20" y1="226.62" x2="263.20" y2="226.62" stroke="#9aa0a6" stroke-width="0.6"/>
<text x="260.00" y="228.32" font-size="4.8" text-anchor="end" font-weight="normal" fill="#444" font-family="Liberation Sans" stroke="#444" stroke-width="0.12">12</text>
<line x1="261.20" y1="241.18" x2="263.20" y2="241.18" stroke="#9aa0a6" stroke-width="0.6"/>
<text x="260.00" y="242.88" font-size="4.8" text-anchor="end" font-weight="normal" fill="#444" font-family="Liberation Sans" stroke="#444" stroke-width="0.12">10</text>
<line x1="261.20" y1="255.74" x2="263.20" y2="255.74" stroke="#9aa0a6" stroke-width="0.6"/>
<text x="260.00" y="257.44" font-size="4.8" text-anchor="end" font-weight="normal" fill="#444" font-family="Liberation Sans" stroke="#444" stroke-width="0.12">8</text>
<line x1="261.20" y1="270.30" x2="263.20" y2="270.30" stroke="#9aa0a6" stroke-width="0.6"/>
<text x="260.00" y="272.00" font-size="4.8" text-anchor="end" font-weight="normal" fill="#444" font-family="Liberation Sans" stroke="#444" stroke-width="0.12">6</text>
<line x1="266.30" y1="276.80" x2="266.30" y2="278.60" stroke="#9aa0a6" stroke-width="0.6"/>
<text x="268.50" y="282.84" font-size="4.6" text-anchor="middle" fill="#333" stroke="#333" stroke-width="0.14" font-family="Liberation Sans" textLength="12.30" lengthAdjust="spacingAndGlyphs">Preop.</text>
<line x1="325.70" y1="276.80" x2="325.70" y2="278.60" stroke="#9aa0a6" stroke-width="0.6"/>
<text x="326.90" y="283.04" font-size="4.6" text-anchor="middle" fill="#333" stroke="#333" stroke-width="0.14" font-family="Liberation Sans" textLength="14.90" lengthAdjust="spacingAndGlyphs">Postop.</text>
<line x1="385.60" y1="276.80" x2="385.60" y2="278.60" stroke="#9aa0a6" stroke-width="0.6"/>
<text x="386.60" y="283.34" font-size="4.6" text-anchor="middle" fill="#333" stroke="#333" stroke-width="0.14" font-family="Liberation Sans" textLength="12.30" lengthAdjust="spacingAndGlyphs">7 dias</text>
<line x1="444.90" y1="276.80" x2="444.90" y2="278.60" stroke="#9aa0a6" stroke-width="0.6"/>
<text x="443.00" y="285.14" font-size="4.6" text-anchor="middle" fill="#333" stroke="#333" stroke-width="0.14" font-family="Liberation Sans" textLength="15.00" lengthAdjust="spacingAndGlyphs">60 dias</text>
<text x="235.50" y="199.40" font-size="4.5" font-weight="bold" fill="#2a2a2a" font-family="Liberation Sans" textLength="12.40" lengthAdjust="spacingAndGlyphs">mmHg</text>
<text x="0" y="0" font-size="6.1" font-weight="bold" fill="#222" stroke="#222" stroke-width="0.12" font-family="Liberation Sans" text-anchor="middle" transform="translate(245.00,240.30) rotate(-90)">Linear Predictions</text>
<polyline points="266.30,243.10 325.70,219.20 385.60,216.90 444.90,226.50" fill="none" stroke="#8aa0cc" stroke-width="1.1"/>
<polyline points="266.30,249.80 325.70,226.10 385.60,224.10 444.90,233.40" fill="none" stroke="#e2949f" stroke-width="1.1"/>
<polyline points="266.30,248.80 325.70,225.10 385.60,223.10 444.90,232.40" fill="none" stroke="#f2b680" stroke-width="1.3"/>
<polyline points="266.30,260.00 325.70,235.80 385.60,233.80 444.90,243.10" fill="none" stroke="#a2b48c" stroke-width="1.1"/>
<line x1="266.30" y1="228.80" x2="266.30" y2="257.80" stroke="#7c8cac" stroke-width="0.7"/>
<line x1="265.40" y1="228.80" x2="267.20" y2="228.80" stroke="#7c8cac" stroke-width="0.7"/>
<line x1="265.40" y1="257.80" x2="267.20" y2="257.80" stroke="#7c8cac" stroke-width="0.7"/>
<line x1="266.30" y1="235.50" x2="266.30" y2="264.50" stroke="#b89094" stroke-width="0.7"/>
<line x1="265.40" y1="235.50" x2="267.20" y2="235.50" stroke="#b89094" stroke-width="0.7"/>
<line x1="265.40" y1="264.50" x2="267.20" y2="264.50" stroke="#b89094" stroke-width="0.7"/>
<line x1="266.30" y1="234.50" x2="266.30" y2="263.50" stroke="#c8a480" stroke-width="0.7"/>
<line x1="265.40" y1="234.50" x2="267.20" y2="234.50" stroke="#c8a480" stroke-width="0.7"/>
<line x1="265.40" y1="263.50" x2="267.20" y2="263.50" stroke="#c8a480" stroke-width="0.7"/>
<line x1="266.30" y1="245.70" x2="266.30" y2="274.70" stroke="#8a967c" stroke-width="0.7"/>
<line x1="265.40" y1="245.70" x2="267.20" y2="245.70" stroke="#8a967c" stroke-width="0.7"/>
<line x1="265.40" y1="274.70" x2="267.20" y2="274.70" stroke="#8a967c" stroke-width="0.7"/>
<line x1="325.70" y1="205.20" x2="325.70" y2="233.30" stroke="#7c8cac" stroke-width="0.7"/>
<line x1="324.80" y1="205.20" x2="326.60" y2="205.20" stroke="#7c8cac" stroke-width="0.7"/>
<line x1="324.80" y1="233.30" x2="326.60" y2="233.30" stroke="#7c8cac" stroke-width="0.7"/>
<line x1="325.70" y1="212.10" x2="325.70" y2="240.20" stroke="#b89094" stroke-width="0.7"/>
<line x1="324.80" y1="212.10" x2="326.60" y2="212.10" stroke="#b89094" stroke-width="0.7"/>
<line x1="324.80" y1="240.20" x2="326.60" y2="240.20" stroke="#b89094" stroke-width="0.7"/>
<line x1="325.70" y1="211.10" x2="325.70" y2="239.20" stroke="#c8a480" stroke-width="0.7"/>
<line x1="324.80" y1="211.10" x2="326.60" y2="211.10" stroke="#c8a480" stroke-width="0.7"/>
<line x1="324.80" y1="239.20" x2="326.60" y2="239.20" stroke="#c8a480" stroke-width="0.7"/>
<line x1="325.70" y1="221.80" x2="325.70" y2="249.90" stroke="#8a967c" stroke-width="0.7"/>
<line x1="324.80" y1="221.80" x2="326.60" y2="221.80" stroke="#8a967c" stroke-width="0.7"/>
<line x1="324.80" y1="249.90" x2="326.60" y2="249.90" stroke="#8a967c" stroke-width="0.7"/>
<line x1="385.60" y1="203.10" x2="385.60" y2="230.60" stroke="#7c8cac" stroke-width="0.7"/>
<line x1="384.70" y1="203.10" x2="386.50" y2="203.10" stroke="#7c8cac" stroke-width="0.7"/>
<line x1="384.70" y1="230.60" x2="386.50" y2="230.60" stroke="#7c8cac" stroke-width="0.7"/>
<line x1="385.60" y1="210.30" x2="385.60" y2="237.80" stroke="#b89094" stroke-width="0.7"/>
<line x1="384.70" y1="210.30" x2="386.50" y2="210.30" stroke="#b89094" stroke-width="0.7"/>
<line x1="384.70" y1="237.80" x2="386.50" y2="237.80" stroke="#b89094" stroke-width="0.7"/>
<line x1="385.60" y1="209.30" x2="385.60" y2="236.80" stroke="#c8a480" stroke-width="0.7"/>
<line x1="384.70" y1="209.30" x2="386.50" y2="209.30" stroke="#c8a480" stroke-width="0.7"/>
<line x1="384.70" y1="236.80" x2="386.50" y2="236.80" stroke="#c8a480" stroke-width="0.7"/>
<line x1="385.60" y1="220.00" x2="385.60" y2="247.50" stroke="#8a967c" stroke-width="0.7"/>
<line x1="384.70" y1="220.00" x2="386.50" y2="220.00" stroke="#8a967c" stroke-width="0.7"/>
<line x1="384.70" y1="247.50" x2="386.50" y2="247.50" stroke="#8a967c" stroke-width="0.7"/>
<line x1="444.90" y1="212.50" x2="444.90" y2="240.60" stroke="#7c8cac" stroke-width="0.7"/>
<line x1="444.00" y1="212.50" x2="445.80" y2="212.50" stroke="#7c8cac" stroke-width="0.7"/>
<line x1="444.00" y1="240.60" x2="445.80" y2="240.60" stroke="#7c8cac" stroke-width="0.7"/>
<line x1="444.90" y1="219.40" x2="444.90" y2="247.50" stroke="#b89094" stroke-width="0.7"/>
<line x1="444.00" y1="219.40" x2="445.80" y2="219.40" stroke="#b89094" stroke-width="0.7"/>
<line x1="444.00" y1="247.50" x2="445.80" y2="247.50" stroke="#b89094" stroke-width="0.7"/>
<line x1="444.90" y1="218.40" x2="444.90" y2="246.50" stroke="#c8a480" stroke-width="0.7"/>
<line x1="444.00" y1="218.40" x2="445.80" y2="218.40" stroke="#c8a480" stroke-width="0.7"/>
<line x1="444.00" y1="246.50" x2="445.80" y2="246.50" stroke="#c8a480" stroke-width="0.7"/>
<line x1="444.90" y1="229.10" x2="444.90" y2="257.20" stroke="#8a967c" stroke-width="0.7"/>
<line x1="444.00" y1="229.10" x2="445.80" y2="229.10" stroke="#8a967c" stroke-width="0.7"/>
<line x1="444.00" y1="257.20" x2="445.80" y2="257.20" stroke="#8a967c" stroke-width="0.7"/>
<circle cx="266.30" cy="243.10" r="1.45" fill="#28447c"/>
<circle cx="325.70" cy="219.20" r="1.45" fill="#28447c"/>
<circle cx="385.60" cy="216.90" r="1.45" fill="#28447c"/>
<circle cx="444.90" cy="226.50" r="1.45" fill="#28447c"/>
<circle cx="266.30" cy="249.80" r="1.45" fill="#9a2a3a"/>
<circle cx="325.70" cy="226.10" r="1.45" fill="#9a2a3a"/>
<circle cx="385.60" cy="224.10" r="1.45" fill="#9a2a3a"/>
<circle cx="444.90" cy="233.40" r="1.45" fill="#9a2a3a"/>
<circle cx="266.30" cy="248.80" r="1.7" fill="#e68c2c"/>
<circle cx="325.70" cy="225.10" r="1.7" fill="#e68c2c"/>
<circle cx="385.60" cy="223.10" r="1.7" fill="#e68c2c"/>
<circle cx="444.90" cy="232.40" r="1.7" fill="#e68c2c"/>
<circle cx="266.30" cy="260.00" r="1.45" fill="#647a4c"/>
<circle cx="325.70" cy="235.80" r="1.45" fill="#647a4c"/>
<circle cx="385.60" cy="233.80" r="1.45" fill="#647a4c"/>
<circle cx="444.90" cy="243.10" r="1.45" fill="#647a4c"/>
<rect x="327.00" y="289.30" width="60.70" height="44.20" rx="1" fill="#ebf0f8" stroke="#5b80b2" stroke-width="1.4"/>
<text x="334.30" y="299.50" font-size="5.0" text-anchor="start" font-weight="bold" fill="#222" font-family="Liberation Sans" stroke="#222" stroke-width="0.18">Control group</text>
<rect x="371.40" y="298.30" width="9.2" height="2.6" fill="#33608f"/>
<text x="334.30" y="305.60" font-size="5.0" text-anchor="start" font-weight="bold" fill="#222" font-family="Liberation Sans" stroke="#222" stroke-width="0.18">Study group</text>
<text x="338.50" y="311.50" font-size="5.0" text-anchor="start" font-weight="normal" fill="#2e2e2e" font-family="Liberation Sans" stroke="#2e2e2e" stroke-width="0.18">0.5 mg/kg</text>
<rect x="371.40" y="308.50" width="9.2" height="2.6" fill="#da7474"/>
<text x="339.90" y="317.70" font-size="5.0" text-anchor="start" font-weight="normal" fill="#2e2e2e" font-family="Liberation Sans" stroke="#2e2e2e" stroke-width="0.18">1 mg/kg</text>
<rect x="371.40" y="314.70" width="9.2" height="2.6" fill="#7f9f52"/>
<text x="339.90" y="323.70" font-size="5.0" text-anchor="start" font-weight="normal" fill="#2e2e2e" font-family="Liberation Sans" stroke="#2e2e2e" stroke-width="0.18">2 mg/kg</text>
<rect x="371.40" y="320.70" width="9.2" height="2.6" fill="#f2a666"/>
<text x="339.90" y="329.70" font-size="5.0" text-anchor="start" font-weight="normal" fill="#2e2e2e" font-family="Liberation Sans" stroke="#2e2e2e" stroke-width="0.18">4 mg/kg</text>
<rect x="371.40" y="326.70" width="9.2" height="2.6" fill="#b2d2dc"/>
<rect x="422.70" y="288.50" width="31.00" height="14.00" fill="#e7ebf4" />
<text x="438.60" y="298.00" font-size="6.0" text-anchor="middle" font-weight="bold" fill="#222" font-family="Liberation Sans" stroke="#222" stroke-width="0.15">Time</text>
<rect x="460.90" y="192.40" width="222.00" height="140.10" fill="#e6eff0" />
<rect x="460.90" y="210.40" width="20.70" height="58.80" fill="#e8ecf5" />
<rect x="491.90" y="193.50" width="187.90" height="81.50" fill="#ffffff" />
<line x1="491.90" y1="198.90" x2="679.80" y2="198.90" stroke="#eff1f1" stroke-width="0.8"/>
<line x1="491.90" y1="223.34" x2="679.80" y2="223.34" stroke="#eff1f1" stroke-width="0.8"/>
<line x1="491.90" y1="247.78" x2="679.80" y2="247.78" stroke="#eff1f1" stroke-width="0.8"/>
<line x1="491.90" y1="272.22" x2="679.80" y2="272.22" stroke="#eff1f1" stroke-width="0.8"/>
<line x1="491.90" y1="193.50" x2="491.90" y2="275.00" stroke="#9ca2a8" stroke-width="0.9"/>
<line x1="491.90" y1="275.00" x2="679.80" y2="275.00" stroke="#aeb2b6" stroke-width="1.1"/>
<line x1="489.90" y1="198.90" x2="491.90" y2="198.90" stroke="#9aa0a6" stroke-width="0.6"/>
<text x="488.70" y="200.60" font-size="5.3" text-anchor="end" font-weight="normal" fill="#444" font-family="Liberation Sans" stroke="#444" stroke-width="0.12">120</text>
<line x1="489.90" y1="223.34" x2="491.90" y2="223.34" stroke="#9aa0a6" stroke-width="0.6"/>
<text x="488.70" y="225.04" font-size="5.3" text-anchor="end" font-weight="normal" fill="#444" font-family="Liberation Sans" stroke="#444" stroke-width="0.12">100</text>
<line x1="489.90" y1="247.78" x2="491.90" y2="247.78" stroke="#9aa0a6" stroke-width="0.6"/>
<text x="488.70" y="249.48" font-size="5.3" text-anchor="end" font-weight="normal" fill="#444" font-family="Liberation Sans" stroke="#444" stroke-width="0.12">80</text>
<line x1="489.90" y1="272.22" x2="491.90" y2="272.22" stroke="#9aa0a6" stroke-width="0.6"/>
<text x="488.70" y="273.92" font-size="5.3" text-anchor="end" font-weight="normal" fill="#444" font-family="Liberation Sans" stroke="#444" stroke-width="0.12">60</text>
<line x1="495.60" y1="275.00" x2="495.60" y2="276.80" stroke="#9aa0a6" stroke-width="0.6"/>
<text x="496.90" y="281.24" font-size="5.1" text-anchor="middle" fill="#333" stroke="#333" stroke-width="0.14" font-family="Liberation Sans" textLength="14.00" lengthAdjust="spacingAndGlyphs">Preop.</text>
<line x1="555.60" y1="275.00" x2="555.60" y2="276.80" stroke="#9aa0a6" stroke-width="0.6"/>
<text x="557.00" y="281.24" font-size="5.1" text-anchor="middle" fill="#333" stroke="#333" stroke-width="0.14" font-family="Liberation Sans" textLength="16.20" lengthAdjust="spacingAndGlyphs">Postop.</text>
<line x1="615.90" y1="275.00" x2="615.90" y2="276.80" stroke="#9aa0a6" stroke-width="0.6"/>
<text x="617.70" y="281.54" font-size="5.1" text-anchor="middle" fill="#333" stroke="#333" stroke-width="0.14" font-family="Liberation Sans" textLength="13.00" lengthAdjust="spacingAndGlyphs">7 dias</text>
<line x1="676.40" y1="275.00" x2="676.40" y2="276.80" stroke="#9aa0a6" stroke-width="0.6"/>
<text x="674.60" y="282.34" font-size="5.1" text-anchor="middle" fill="#333" stroke="#333" stroke-width="0.14" font-family="Liberation Sans" textLength="16.30" lengthAdjust="spacingAndGlyphs">60 dias</text>
<text x="464.00" y="198.30" font-size="4.5" font-weight="bold" fill="#2a2a2a" font-family="Liberation Sans" textLength="12.60" lengthAdjust="spacingAndGlyphs">mmHg</text>
<text x="0" y="0" font-size="6.1" font-weight="bold" fill="#222" stroke="#222" stroke-width="0.12" font-family="Liberation Sans" text-anchor="middle" transform="translate(474.20,240.30) rotate(-90)">Linear Predictions</text>
<polyline points="495.60,206.00 555.60,236.70 615.90,240.50 676.40,222.70" fill="none" stroke="#a0c2cc" stroke-width="1.1"/>
<polyline points="495.60,213.40 555.60,244.00 615.90,247.80 676.40,230.30" fill="none" stroke="#f2b680" stroke-width="1.1"/>
<polyline points="495.60,217.20 555.60,248.40 615.90,251.90 676.40,234.40" fill="none" stroke="#e2949f" stroke-width="1.1"/>
<polyline points="495.60,222.70 555.60,254.20 615.90,257.70 676.40,239.60" fill="none" stroke="#a2b48c" stroke-width="1.1"/>
<line x1="495.60" y1="196.40" x2="495.60" y2="215.60" stroke="#8aa4ac" stroke-width="0.7"/>
<line x1="494.70" y1="196.40" x2="496.50" y2="196.40" stroke="#8aa4ac" stroke-width="0.7"/>
<line x1="494.70" y1="215.60" x2="496.50" y2="215.60" stroke="#8aa4ac" stroke-width="0.7"/>
<line x1="495.60" y1="203.80" x2="495.60" y2="223.00" stroke="#c8a480" stroke-width="0.7"/>
<line x1="494.70" y1="203.80" x2="496.50" y2="203.80" stroke="#c8a480" stroke-width="0.7"/>
<line x1="494.70" y1="223.00" x2="496.50" y2="223.00" stroke="#c8a480" stroke-width="0.7"/>
<line x1="495.60" y1="207.60" x2="495.60" y2="226.80" stroke="#b89094" stroke-width="0.7"/>
<line x1="494.70" y1="207.60" x2="496.50" y2="207.60" stroke="#b89094" stroke-width="0.7"/>
<line x1="494.70" y1="226.80" x2="496.50" y2="226.80" stroke="#b89094" stroke-width="0.7"/>
<line x1="495.60" y1="213.10" x2="495.60" y2="232.30" stroke="#8a967c" stroke-width="0.7"/>
<line x1="494.70" y1="213.10" x2="496.50" y2="213.10" stroke="#8a967c" stroke-width="0.7"/>
<line x1="494.70" y1="232.30" x2="496.50" y2="232.30" stroke="#8a967c" stroke-width="0.7"/>
<line x1="555.60" y1="227.10" x2="555.60" y2="246.10" stroke="#8aa4ac" stroke-width="0.7"/>
<line x1="554.70" y1="227.10" x2="556.50" y2="227.10" stroke="#8aa4ac" stroke-width="0.7"/>
<line x1="554.70" y1="246.10" x2="556.50" y2="246.10" stroke="#8aa4ac" stroke-width="0.7"/>
<line x1="555.60" y1="234.40" x2="555.60" y2="253.40" stroke="#c8a480" stroke-width="0.7"/>
<line x1="554.70" y1="234.40" x2="556.50" y2="234.40" stroke="#c8a480" stroke-width="0.7"/>
<line x1="554.70" y1="253.40" x2="556.50" y2="253.40" stroke="#c8a480" stroke-width="0.7"/>
<line x1="555.60" y1="238.80" x2="555.60" y2="257.80" stroke="#b89094" stroke-width="0.7"/>
<line x1="554.70" y1="238.80" x2="556.50" y2="238.80" stroke="#b89094" stroke-width="0.7"/>
<line x1="554.70" y1="257.80" x2="556.50" y2="257.80" stroke="#b89094" stroke-width="0.7"/>
<line x1="555.60" y1="244.60" x2="555.60" y2="263.60" stroke="#8a967c" stroke-width="0.7"/>
<line x1="554.70" y1="244.60" x2="556.50" y2="244.60" stroke="#8a967c" stroke-width="0.7"/>
<line x1="554.70" y1="263.60" x2="556.50" y2="263.60" stroke="#8a967c" stroke-width="0.7"/>
<line x1="615.90" y1="230.90" x2="615.90" y2="250.20" stroke="#8aa4ac" stroke-width="0.7"/>
<line x1="615.00" y1="230.90" x2="616.80" y2="230.90" stroke="#8aa4ac" stroke-width="0.7"/>
<line x1="615.00" y1="250.20" x2="616.80" y2="250.20" stroke="#8aa4ac" stroke-width="0.7"/>
<line x1="615.90" y1="238.20" x2="615.90" y2="257.50" stroke="#c8a480" stroke-width="0.7"/>
<line x1="615.00" y1="238.20" x2="616.80" y2="238.20" stroke="#c8a480" stroke-width="0.7"/>
<line x1="615.00" y1="257.50" x2="616.80" y2="257.50" stroke="#c8a480" stroke-width="0.7"/>
<line x1="615.90" y1="242.30" x2="615.90" y2="261.60" stroke="#b89094" stroke-width="0.7"/>
<line x1="615.00" y1="242.30" x2="616.80" y2="242.30" stroke="#b89094" stroke-width="0.7"/>
<line x1="615.00" y1="261.60" x2="616.80" y2="261.60" stroke="#b89094" stroke-width="0.7"/>
<line x1="615.90" y1="248.10" x2="615.90" y2="267.40" stroke="#8a967c" stroke-width="0.7"/>
<line x1="615.00" y1="248.10" x2="616.80" y2="248.10" stroke="#8a967c" stroke-width="0.7"/>
<line x1="615.00" y1="267.40" x2="616.80" y2="267.40" stroke="#8a967c" stroke-width="0.7"/>
<line x1="676.40" y1="213.40" x2="676.40" y2="232.10" stroke="#8aa4ac" stroke-width="0.7"/>
<line x1="675.50" y1="213.40" x2="677.30" y2="213.40" stroke="#8aa4ac" stroke-width="0.7"/>
<line x1="675.50" y1="232.10" x2="677.30" y2="232.10" stroke="#8aa4ac" stroke-width="0.7"/>
<line x1="676.40" y1="221.00" x2="676.40" y2="239.70" stroke="#c8a480" stroke-width="0.7"/>
<line x1="675.50" y1="221.00" x2="677.30" y2="221.00" stroke="#c8a480" stroke-width="0.7"/>
<line x1="675.50" y1="239.70" x2="677.30" y2="239.70" stroke="#c8a480" stroke-width="0.7"/>
<line x1="676.40" y1="225.10" x2="676.40" y2="243.80" stroke="#b89094" stroke-width="0.7"/>
<line x1="675.50" y1="225.10" x2="677.30" y2="225.10" stroke="#b89094" stroke-width="0.7"/>
<line x1="675.50" y1="243.80" x2="677.30" y2="243.80" stroke="#b89094" stroke-width="0.7"/>
<line x1="676.40" y1="230.30" x2="676.40" y2="249.00" stroke="#8a967c" stroke-width="0.7"/>
<line x1="675.50" y1="230.30" x2="677.30" y2="230.30" stroke="#8a967c" stroke-width="0.7"/>
<line x1="675.50" y1="249.00" x2="677.30" y2="249.00" stroke="#8a967c" stroke-width="0.7"/>
<circle cx="495.60" cy="206.00" r="1.45" fill="#5c8c92"/>
<circle cx="555.60" cy="236.70" r="1.45" fill="#5c8c92"/>
<circle cx="615.90" cy="240.50" r="1.45" fill="#5c8c92"/>
<circle cx="676.40" cy="222.70" r="1.45" fill="#5c8c92"/>
<circle cx="495.60" cy="213.40" r="1.45" fill="#e68c2c"/>
<circle cx="555.60" cy="244.00" r="1.45" fill="#e68c2c"/>
<circle cx="615.90" cy="247.80" r="1.45" fill="#e68c2c"/>
<circle cx="676.40" cy="230.30" r="1.45" fill="#e68c2c"/>
<circle cx="495.60" cy="217.20" r="1.45" fill="#9a2a3a"/>
<circle cx="555.60" cy="248.40" r="1.45" fill="#9a2a3a"/>
<circle cx="615.90" cy="251.90" r="1.45" fill="#9a2a3a"/>
<circle cx="676.40" cy="234.40" r="1.45" fill="#9a2a3a"/>
<circle cx="495.60" cy="222.70" r="1.45" fill="#647a4c"/>
<circle cx="555.60" cy="254.20" r="1.45" fill="#647a4c"/>
<circle cx="615.90" cy="257.70" r="1.45" fill="#647a4c"/>
<circle cx="676.40" cy="239.60" r="1.45" fill="#647a4c"/>
<rect x="563.70" y="288.00" width="61.00" height="43.40" rx="1" fill="#ebf0f8" stroke="#5b80b2" stroke-width="1.4"/>
<text x="571.00" y="297.10" font-size="5.0" text-anchor="start" font-weight="bold" fill="#222" font-family="Liberation Sans" stroke="#222" stroke-width="0.18">Control group</text>
<rect x="608.10" y="295.90" width="9.2" height="2.6" fill="#33608f"/>
<text x="571.00" y="303.50" font-size="5.0" text-anchor="start" font-weight="bold" fill="#222" font-family="Liberation Sans" stroke="#222" stroke-width="0.18">Study group</text>
<text x="575.20" y="309.40" font-size="5.0" text-anchor="start" font-weight="normal" fill="#2e2e2e" font-family="Liberation Sans" stroke="#2e2e2e" stroke-width="0.18">0.5 mg/kg</text>
<rect x="608.10" y="306.40" width="9.2" height="2.6" fill="#da7474"/>
<text x="576.60" y="315.30" font-size="5.0" text-anchor="start" font-weight="normal" fill="#2e2e2e" font-family="Liberation Sans" stroke="#2e2e2e" stroke-width="0.18">1 mg/kg</text>
<rect x="608.10" y="312.30" width="9.2" height="2.6" fill="#7f9f52"/>
<text x="576.60" y="321.50" font-size="5.0" text-anchor="start" font-weight="normal" fill="#2e2e2e" font-family="Liberation Sans" stroke="#2e2e2e" stroke-width="0.18">2 mg/kg</text>
<rect x="608.10" y="318.50" width="9.2" height="2.6" fill="#f2a666"/>
<text x="576.60" y="327.80" font-size="5.0" text-anchor="start" font-weight="normal" fill="#2e2e2e" font-family="Liberation Sans" stroke="#2e2e2e" stroke-width="0.18">4 mg/kg</text>
<rect x="608.10" y="324.80" width="9.2" height="2.6" fill="#b2d2dc"/>
<rect x="648.40" y="284.90" width="33.00" height="15.80" fill="#e7ebf4" />
<text x="664.60" y="295.90" font-size="6.0" text-anchor="middle" font-weight="bold" fill="#222" font-family="Liberation Sans" stroke="#222" stroke-width="0.15">Time</text>
<rect x="2.40" y="147.00" width="222.40" height="37.70" fill="#fff" stroke="#2a2a2a" stroke-width="1.5"/>
<text x="6.40" y="163.10" font-size="8.0" fill="#3a3a3a" stroke="#3a3a3a" stroke-width="0.12" font-family="Liberation Serif" textLength="208.20" lengthAdjust="spacingAndGlyphs">A. “Mean Arterial Pressure” distribution in all groups, represented by the</text>
<text x="6.40" y="175.00" font-size="8.0" fill="#3a3a3a" stroke="#3a3a3a" stroke-width="0.12" font-family="Liberation Serif" textLength="21.70" lengthAdjust="spacingAndGlyphs">median.</text>
<rect x="230.80" y="147.00" width="222.30" height="37.60" fill="#fff" stroke="#2a2a2a" stroke-width="1.5"/>
<text x="234.40" y="163.10" font-size="8.0" fill="#3a3a3a" stroke="#3a3a3a" stroke-width="0.12" font-family="Liberation Serif" textLength="200.80" lengthAdjust="spacingAndGlyphs">C. “Intracranial Pressure” distribution in all groups, represented by the</text>
<text x="234.40" y="175.00" font-size="8.0" fill="#3a3a3a" stroke="#3a3a3a" stroke-width="0.12" font-family="Liberation Serif" textLength="21.70" lengthAdjust="spacingAndGlyphs">median.</text>
<rect x="460.50" y="147.00" width="222.10" height="37.30" fill="#fff" stroke="#2a2a2a" stroke-width="1.5"/>
<text x="465.00" y="163.00" font-size="8.0" fill="#3a3a3a" stroke="#3a3a3a" stroke-width="0.12" font-family="Liberation Serif" textLength="210.50" lengthAdjust="spacingAndGlyphs">E. “Cerebral Perfusion Pressure” distribution in all groups, represented by</text>
<text x="465.00" y="175.00" font-size="8.0" fill="#3a3a3a" stroke="#3a3a3a" stroke-width="0.12" font-family="Liberation Serif" textLength="32.20" lengthAdjust="spacingAndGlyphs">the median.</text>
<rect x="2.40" y="335.60" width="222.20" height="37.20" fill="#fff" stroke="#2a2a2a" stroke-width="1.5"/>
<text x="7.10" y="350.90" font-size="8.0" fill="#3a3a3a" stroke="#3a3a3a" stroke-width="0.12" font-family="Liberation Serif" textLength="212.30" lengthAdjust="spacingAndGlyphs">B. Linear predictions of “Mean Arterial Pressure” in accordance to “time”,</text>
<text x="7.10" y="362.50" font-size="8.0" fill="#3a3a3a" stroke="#3a3a3a" stroke-width="0.12" font-family="Liberation Serif" textLength="130.30" lengthAdjust="spacingAndGlyphs">with their respective 95% confidence interval.</text>
<rect x="230.80" y="337.00" width="222.60" height="35.60" fill="#fff" stroke="#2a2a2a" stroke-width="1.5"/>
<text x="234.80" y="351.90" font-size="8.0" fill="#3a3a3a" stroke="#3a3a3a" stroke-width="0.12" font-family="Liberation Serif" textLength="206.10" lengthAdjust="spacingAndGlyphs">D. Linear predictions of “Intracranial Pressure” in accordance to “time”,</text>
<text x="234.80" y="363.10" font-size="8.0" fill="#3a3a3a" stroke="#3a3a3a" stroke-width="0.12" font-family="Liberation Serif" textLength="130.80" lengthAdjust="spacingAndGlyphs">with their respective 95% confidence interval.</text>
<rect x="460.40" y="335.80" width="222.20" height="37.00" fill="#fff" stroke="#2a2a2a" stroke-width="1.5"/>
<text x="464.80" y="351.50" font-size="8.0" fill="#3a3a3a" stroke="#3a3a3a" stroke-width="0.12" font-family="Liberation Serif" textLength="202.50" lengthAdjust="spacingAndGlyphs">F. Linear predictions of “Cerebral Perfusion Pressure” in accordance to</text>
<text x="464.80" y="363.20" font-size="8.0" fill="#3a3a3a" stroke="#3a3a3a" stroke-width="0.12" font-family="Liberation Serif" textLength="152.90" lengthAdjust="spacingAndGlyphs">“time”, with their respective 95% confidence interval.</text>
</g>
</svg>
</body></html>
